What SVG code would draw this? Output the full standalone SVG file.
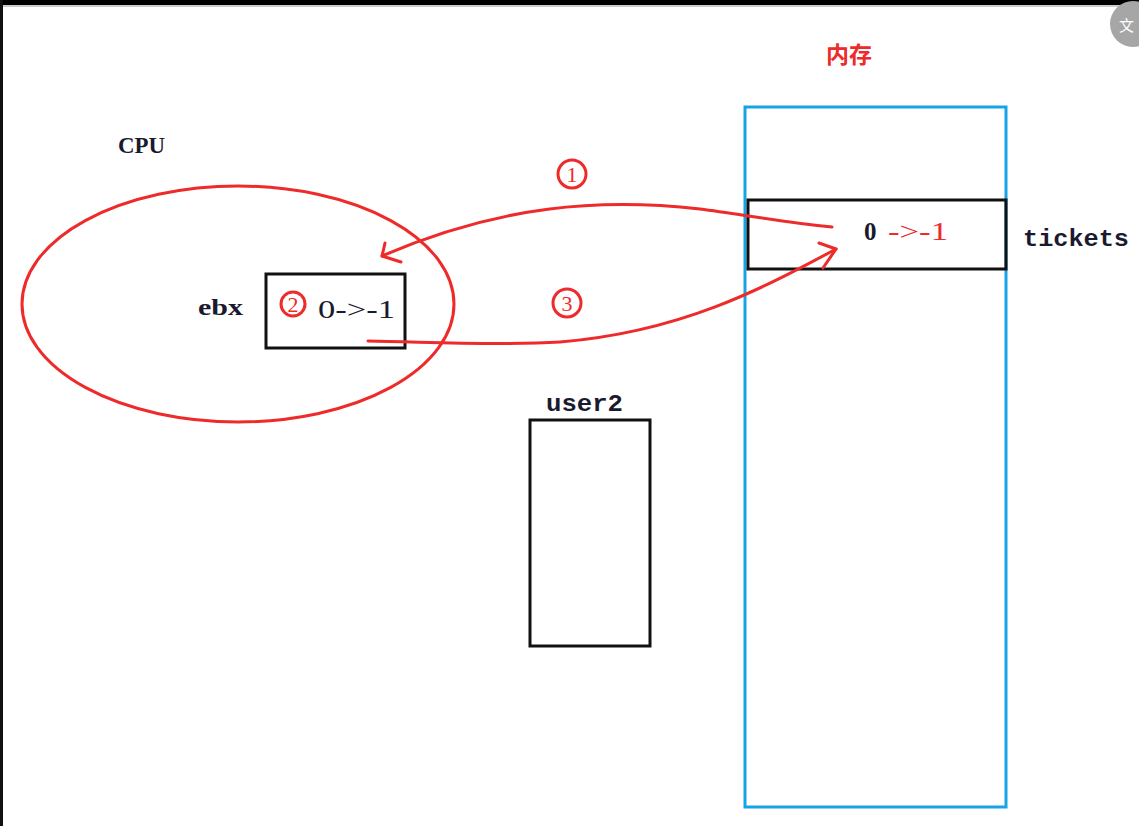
<svg xmlns="http://www.w3.org/2000/svg" width="1139" height="826" viewBox="0 0 1139 826">
<style>
.lbl{font-family:"Liberation Serif",serif;font-weight:bold;fill:#1a1a2e}
.mono{font-family:"Liberation Mono",monospace;font-weight:bold;fill:#1a1a2e}
.red{stroke:#ee2a2a;fill:none;stroke-width:3;stroke-linecap:round;stroke-linejoin:round}
.box{fill:none;stroke:#111;stroke-width:3}
.num{font-family:"Liberation Serif",serif;fill:#ee2a2a;font-size:22px;text-anchor:middle}
</style>
<rect width="1139" height="826" fill="#fff"/>
<rect x="0" y="0" width="1139" height="5" fill="#000"/>
<rect x="0" y="0" width="3" height="826" fill="#111"/>
<line x1="3" y1="6" x2="1139" y2="6" stroke="#999" stroke-width="1"/>
<g id="icon">
<circle cx="1133" cy="24" r="23" fill="#a6a6a6"/>
<text x="1119" y="31" font-family="Noto Sans CJK SC,sans-serif" font-size="15" fill="#fff">文</text>
</g>
<g id="memory">
<rect x="745" y="107" width="261" height="700" fill="none" stroke="#17a3e8" stroke-width="3"/>
<text x="826" y="63" font-family="Noto Sans CJK SC,sans-serif" font-weight="bold" font-size="23" fill="#ee2a2a">内存</text>
</g>
<g id="tickets">
<rect x="748" y="200" width="258" height="69" class="box"/>
<text x="864" y="240" class="lbl" font-size="25">0</text>
<text x="888" y="240" font-family="Liberation Serif,serif" font-size="25" fill="#ee2a2a" textLength="60" lengthAdjust="spacingAndGlyphs">-&gt;-1</text>
<text x="1023" y="246" class="mono" font-size="24" textLength="106" lengthAdjust="spacingAndGlyphs">tickets</text>
</g>
<g id="cpu">
<ellipse cx="238" cy="304" rx="216" ry="118" class="red" stroke-width="2.5"/>
<text x="118" y="153" class="lbl" font-size="23" textLength="47" lengthAdjust="spacingAndGlyphs">CPU</text>
</g>
<g id="ebx">
<rect x="266" y="274" width="139" height="74" class="box"/>
<text x="198" y="315" class="lbl" font-size="24" textLength="45" lengthAdjust="spacingAndGlyphs">ebx</text>
<circle cx="293" cy="304" r="12" class="red" stroke-width="2"/>
<text x="293" y="312" class="num" font-size="20">2</text>
<text x="318" y="318" font-family="Liberation Serif,serif" font-size="26" fill="#1a1a2e" textLength="77" lengthAdjust="spacingAndGlyphs">0-&gt;-1</text>
</g>
<g id="user2">
<rect x="530" y="420" width="120" height="226" class="box"/>
<text x="546" y="411" class="mono" font-size="24" textLength="77" lengthAdjust="spacingAndGlyphs">user2</text>
</g>
<g id="connectors">
<path d="M832 227 C780 222 740 214 700 209 C600 198 500 205 382 256" class="red"/>
<path d="M385 243 L382 256 L401 262" class="red"/>
<path d="M368 341 C430 342 500 346 560 342 C680 332 760 290 836 249" class="red"/>
<path d="M819 243 L836 249 L823 268" class="red"/>
<circle cx="572" cy="174" r="14" class="red" stroke-width="2"/>
<text x="572" y="182" class="num">1</text>
<circle cx="567" cy="303" r="14" class="red" stroke-width="2"/>
<text x="567" y="311" class="num">3</text>
</g>
</svg>
